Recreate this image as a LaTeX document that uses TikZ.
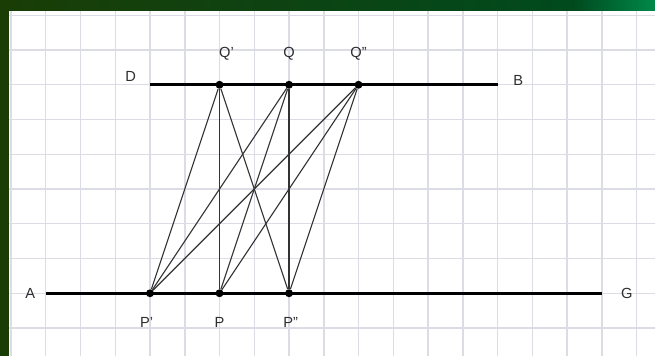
\documentclass[tikz,border=0pt]{standalone}
\usepackage{fontspec}
\setmainfont{Liberation Sans}
\usetikzlibrary{positioning}
\definecolor{borderdark}{HTML}{1A3D06}
\definecolor{bandmid}{HTML}{004A1E}
\definecolor{bandlight}{HTML}{00894A}
\definecolor{gridgray}{HTML}{DCDCE4}
\definecolor{labelgray}{HTML}{2E2E2E}
\definecolor{linegray}{HTML}{333333}

\begin{document}
\begin{tikzpicture}[
  pt/.style={circle, fill=black, inner sep=0pt, minimum size=6.5pt},
  lbl/.style={inner sep=0pt, font=\fontsize{12}{14}\selectfont, text=labelgray},
  mainline/.style={draw=black, line width=2.4pt},
  link/.style={draw=linegray, line width=0.9pt},
  gridline/.style={draw=gridgray, line width=1.2pt}
]
  \useasboundingbox (-0.317,-0.806) rectangle (18.532,9.439);
  % background and frame
  \fill[white] (-0.317,-0.806) rectangle (18.532,9.439);
  \draw[gridline, step=1] (-0.05,-0.806) grid (18.532,9.151);
  \fill[borderdark] (-0.317,-0.806) rectangle (-0.058,9.439);
  \shade[left color=borderdark, right color=bandmid] (-0.317,9.151) rectangle (16.2,9.439);
  \shade[left color=bandmid, right color=bandlight] (16.2,9.151) rectangle (18.532,9.439);

  % the two lines
  \coordinate (a) at (1,1);
  \coordinate (g) at (17,1);
  \coordinate (d) at (4,7);
  \coordinate (b) at (14,7);
  \draw[mainline] (a) -- (g);
  \draw[mainline] (d) -- (b);
  \node[lbl, left=0.3cm of a] (la) {A};
  \node[lbl, right=0.55cm of g] (lg) {G};
  \node[lbl, left=0.4cm of d, yshift=0.25cm] (ld) {D};
  \node[lbl, right=0.45cm of b, yshift=0.13cm] (lb) {B};

  % points
  \node[pt] (pl) at (4,1) {};
  \node[pt] (pm) at (6,1) {};
  \node[pt] (pr) at (8,1) {};
  \node[pt] (ql) at (6,7) {};
  \node[pt] (qm) at (8,7) {};
  \node[pt] (qr) at (10,7) {};

  \foreach \q in {ql,qm,qr}
    \foreach \p in {pl,pm,pr}
      \draw[link] (\q) -- (\p);

  \node[lbl, below=0.58cm of pl, xshift=-0.1cm] (lpl) {P'};
  \node[lbl, below=0.58cm of pm] (lpm) {P};
  \node[lbl, below=0.58cm of pr, xshift=0.05cm] (lpr) {P''};
  \node[lbl, above=0.58cm of ql, xshift=0.2cm] (lql) {Q'};
  \node[lbl, above=0.58cm of qm] (lqm) {Q};
  \node[lbl, above=0.58cm of qr] (lqr) {Q''};
\end{tikzpicture}
\end{document}
